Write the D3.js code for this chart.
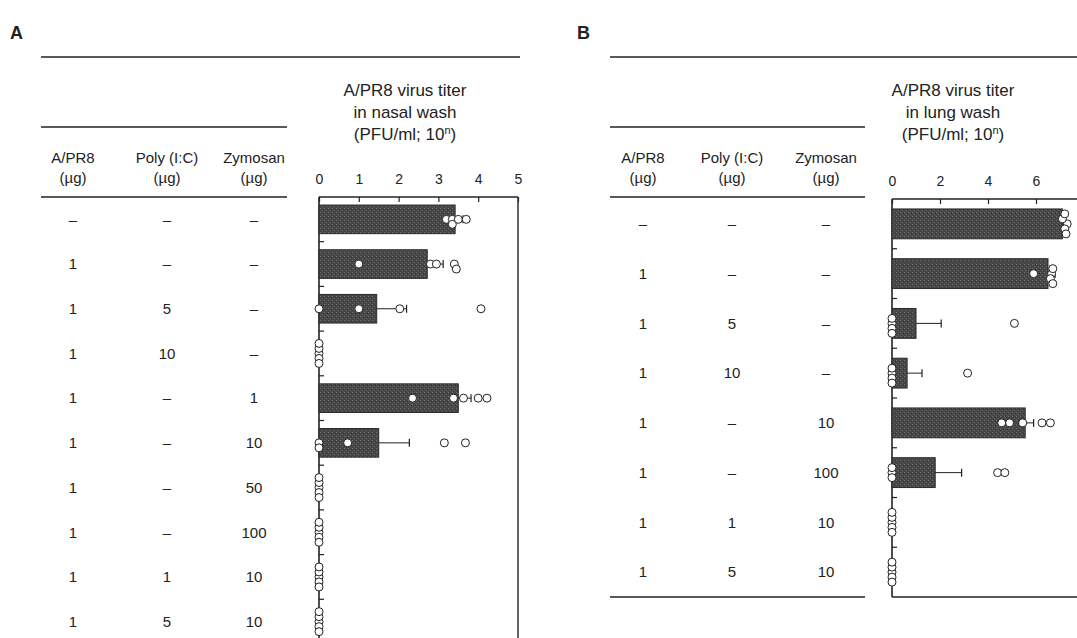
<!DOCTYPE html>
<html>
<head>
<meta charset="utf-8">
<script src="https://cdn.jsdelivr.net/npm/d3@7"></script>
<style>
  body { margin: 0; background: #fff; }
  svg { display: block; font-family: "Liberation Sans", Arial, sans-serif; }
  text { fill: #222; }
</style>
</head>
<body>
<div id="chart"></div>
<script>
// table headers
var colHeads = [["A/PR8", "(\u00b5g)"], ["Poly (I:C)", "(\u00b5g)"], ["Zymosan", "(\u00b5g)"]];

// panel A - nasal wash
var nasalApr8 = ["\u2013", "1", "1", "1", "1", "1", "1", "1", "1", "1"];
var nasalPoly = ["\u2013", "\u2013", "5", "10", "\u2013", "\u2013", "\u2013", "\u2013", "1", "5"];
var nasalZymo = ["\u2013", "\u2013", "\u2013", "\u2013", "1", "10", "50", "100", "10", "10"];
var nasalMean = [3.42, 2.72, 1.45, 0, 3.5, 1.5, 0, 0, 0, 0];
var nasalSD   = [0.2, 0.4, 0.75, 0, 0.32, 0.77, 0, 0, 0, 0];
var nasalPts = [
  [3.2, 3.35, 3.35, 3.5, 3.7],
  [1.0, 2.8, 2.95, 3.4, 3.45],
  [0, 1.0, 2.03, 4.07],
  [0, 0, 0, 0, 0],
  [2.35, 3.38, 3.63, 4.0, 4.22],
  [0, 0, 0.72, 3.15, 3.68],
  [0, 0, 0, 0, 0],
  [0, 0, 0, 0, 0],
  [0, 0, 0, 0, 0],
  [0, 0, 0, 0, 0]
];
var nasalTicks = [0, 1, 2, 3, 4, 5];
var nasalTitle = ["A/PR8 virus titer", "in nasal wash"];

// panel B - lung wash
var lungApr8 = ["\u2013", "1", "1", "1", "1", "1", "1", "1"];
var lungPoly = ["\u2013", "\u2013", "5", "10", "\u2013", "\u2013", "1", "5"];
var lungZymo = ["\u2013", "\u2013", "\u2013", "\u2013", "10", "100", "10", "10"];
var lungMean = [7.1, 6.5, 1.0, 0.63, 5.55, 1.8, 0, 0];
var lungSD   = [0.1, 0.3, 1.05, 0.62, 0.35, 1.1, 0, 0];
var lungPts = [
  [7.3, 7.2, 7.1, 7.25, 7.2],
  [5.9, 6.65, 6.6, 6.7, 6.7],
  [0, 0, 0, 0, 5.1],
  [0, 0, 0, 0, 3.15],
  [4.57, 4.9, 5.45, 6.25, 6.6],
  [0, 0, 0, 4.4, 4.7],
  [0, 0, 0, 0, 0],
  [0, 0, 0, 0, 0]
];
var lungTicks = [0, 2, 4, 6];
var lungTitle = ["A/PR8 virus titer", "in lung wash"];

var svg = d3.select("#chart").append("svg")
  .attr("width", 1077)
  .attr("height", 638);

// grainy dark fill for the bars
var defs = svg.append("defs");
var pat = defs.append("pattern")
  .attr("id", "grain")
  .attr("width", 4).attr("height", 4)
  .attr("patternUnits", "userSpaceOnUse");
pat.append("rect").attr("width", 4).attr("height", 4).attr("fill", "#474747");
pat.append("rect").attr("x", 0).attr("y", 0).attr("width", 1).attr("height", 1).attr("fill", "#707070");
pat.append("rect").attr("x", 2).attr("y", 2).attr("width", 1).attr("height", 1).attr("fill", "#636363");
pat.append("rect").attr("x", 3).attr("y", 1).attr("width", 1).attr("height", 1).attr("fill", "#333");

function hline(g, x1, x2, y, w) {
  g.append("line")
    .attr("x1", x1).attr("x2", x2).attr("y1", y).attr("y2", y)
    .attr("stroke", "#222").attr("stroke-width", w || 1.6);
}

// simple dot stacking: move overlapping dots up/down in 5px steps
function swarm(xs, minDist) {
  var placed = [];
  var offs = [0, 5, -5, 10, -10, 15, -15];
  xs.forEach(function(x) {
    for (var k = 0; k < offs.length; k++) {
      var ok = placed.every(function(p) {
        return Math.hypot(p.x - x, p.dy - offs[k]) >= minDist - 0.01;
      });
      if (ok) { placed.push({x: x, dy: offs[k]}); return; }
    }
    placed.push({x: x, dy: 0});
  });
  return placed;
}

function drawPanel(p) {
  var g = svg.append("g");

  g.append("text")
    .attr("x", p.labelX).attr("y", 39)
    .attr("font-size", 18).attr("font-weight", "bold")
    .text(p.label);

  hline(g, p.tableX1, p.topX2, 57);
  hline(g, p.tableX1, p.tableX2, 127);
  hline(g, p.tableX1, p.tableX2, 197);

  // column headers
  colHeads.forEach(function(h, i) {
    g.append("text").attr("x", p.colX[i]).attr("y", 163)
      .attr("text-anchor", "middle").attr("font-size", 15).text(h[0]);
    g.append("text").attr("x", p.colX[i]).attr("y", 183)
      .attr("text-anchor", "middle").attr("font-size", 15).text(h[1]);
  });

  var x = d3.scaleLinear().domain(p.xDomain).range([p.x0, p.x1]);
  var y = d3.scaleBand()
    .domain(d3.range(p.mean.length))
    .range([p.yTop, p.yTop + p.step * p.mean.length])
    .paddingInner(p.pad).paddingOuter(p.pad / 2);

  // table cells
  [p.apr8, p.poly, p.zymo].forEach(function(col, ci) {
    g.selectAll(null).data(col).enter().append("text")
      .attr("x", p.colX[ci])
      .attr("y", function(d, i) { return y(i) + y.bandwidth() / 2; })
      .attr("dy", "0.35em")
      .attr("text-anchor", "middle")
      .attr("font-size", 15)
      .text(function(d) { return d; });
  });

  // title
  p.title.forEach(function(t, i) {
    g.append("text").attr("x", p.titleX).attr("y", 96 + i * 22)
      .attr("text-anchor", "middle").attr("font-size", 17).text(t);
  });
  var t3 = g.append("text").attr("x", p.titleX).attr("y", 140)
    .attr("text-anchor", "middle").attr("font-size", 17);
  t3.append("tspan").text("(PFU/ml; 10");
  t3.append("tspan").attr("font-size", 11).attr("dy", -6).text("n");
  t3.append("tspan").attr("dy", 6).text(")");

  // top axis, ticks pointing inwards
  var axTop = g.append("g")
    .attr("transform", "translate(0," + p.yTop + ")")
    .call(d3.axisTop(x).tickValues(p.ticks).tickFormat(d3.format("d")).tickSize(-5).tickPadding(13));
  axTop.select(".domain").remove();
  axTop.selectAll("line").attr("stroke", "#222").attr("stroke-width", 1.2);
  axTop.selectAll("text").attr("font-size", 14).attr("font-family", "'Liberation Sans', Arial, sans-serif").attr("fill", "#222");

  var yBot = p.yTop + p.step * p.mean.length;
  g.append("line").attr("x1", p.x0).attr("x2", x(p.xDomain[1]))
    .attr("y1", p.yTop).attr("y2", p.yTop).attr("stroke", "#222").attr("stroke-width", 1.4);
  g.append("line").attr("x1", p.x0).attr("x2", p.x0)
    .attr("y1", p.yTop).attr("y2", yBot).attr("stroke", "#222").attr("stroke-width", 1.6);
  g.append("line").attr("x1", x(p.xDomain[1])).attr("x2", x(p.xDomain[1]))
    .attr("y1", p.yTop).attr("y2", yBot).attr("stroke", "#222").attr("stroke-width", 1.4);

  // row separators on left axis
  g.selectAll(null).data(d3.range(1, p.mean.length)).enter().append("line")
    .attr("x1", p.x0).attr("x2", p.x0 + 5)
    .attr("y1", function(i) { return p.yTop + i * p.step; })
    .attr("y2", function(i) { return p.yTop + i * p.step; })
    .attr("stroke", "#222").attr("stroke-width", 1.2);

  if (p.bottom) {
    hline(g, p.tableX1, p.tableX2, yBot);
    hline(g, p.x0, p.topX2, yBot);
  }

  // bars
  g.selectAll(".bar").data(p.mean).enter().append("rect")
    .attr("class", "bar")
    .attr("x", x(0))
    .attr("y", function(d, i) { return y(i); })
    .attr("width", function(d) { return x(d) - x(0); })
    .attr("height", y.bandwidth())
    .attr("fill", "url(#grain)")
    .attr("stroke", "#2a2a2a").attr("stroke-width", function(d) { return d > 0 ? 1 : 0; });

  // error bars (upper side only)
  p.mean.forEach(function(m, i) {
    if (!(m > 0 && p.sd[i] > 0)) return;
    var cy = y(i) + y.bandwidth() / 2;
    g.append("line").attr("x1", x(m)).attr("x2", x(m + p.sd[i]))
      .attr("y1", cy).attr("y2", cy).attr("stroke", "#222").attr("stroke-width", 1);
    g.append("line").attr("x1", x(m + p.sd[i])).attr("x2", x(m + p.sd[i]))
      .attr("y1", cy - 4).attr("y2", cy + 4).attr("stroke", "#222").attr("stroke-width", 1.2);
  });

  // individual animals
  p.pts.forEach(function(vals, i) {
    var cy = y(i) + y.bandwidth() / 2;
    var placed = swarm(vals.map(function(v) { return x(v); }), 5);
    g.selectAll(null).data(placed).enter().append("circle")
      .attr("cx", function(d) { return d.x; })
      .attr("cy", function(d) { return cy + d.dy; })
      .attr("r", 4)
      .attr("fill", "#fff")
      .attr("stroke", "#222").attr("stroke-width", 1);
  });
}

drawPanel({
  label: "A", labelX: 10,
  tableX1: 41, tableX2: 287, topX2: 520,
  colX: [73, 167, 254],
  apr8: nasalApr8, poly: nasalPoly, zymo: nasalZymo,
  mean: nasalMean, sd: nasalSD, pts: nasalPts,
  ticks: nasalTicks, xDomain: [0, 5], x0: 319, x1: 518,
  yTop: 197, step: 44.7, pad: 0.36,
  title: nasalTitle, titleX: 405,
  bottom: false
});

drawPanel({
  label: "B", labelX: 577,
  tableX1: 610, tableX2: 865, topX2: 1077,
  colX: [643, 732, 826],
  apr8: lungApr8, poly: lungPoly, zymo: lungZymo,
  mean: lungMean, sd: lungSD, pts: lungPts,
  ticks: lungTicks, xDomain: [0, 8], x0: 892, x1: 1084,
  yTop: 199, step: 49.75, pad: 0.4,
  title: lungTitle, titleX: 953,
  bottom: true
});
</script>
</body>
</html>
